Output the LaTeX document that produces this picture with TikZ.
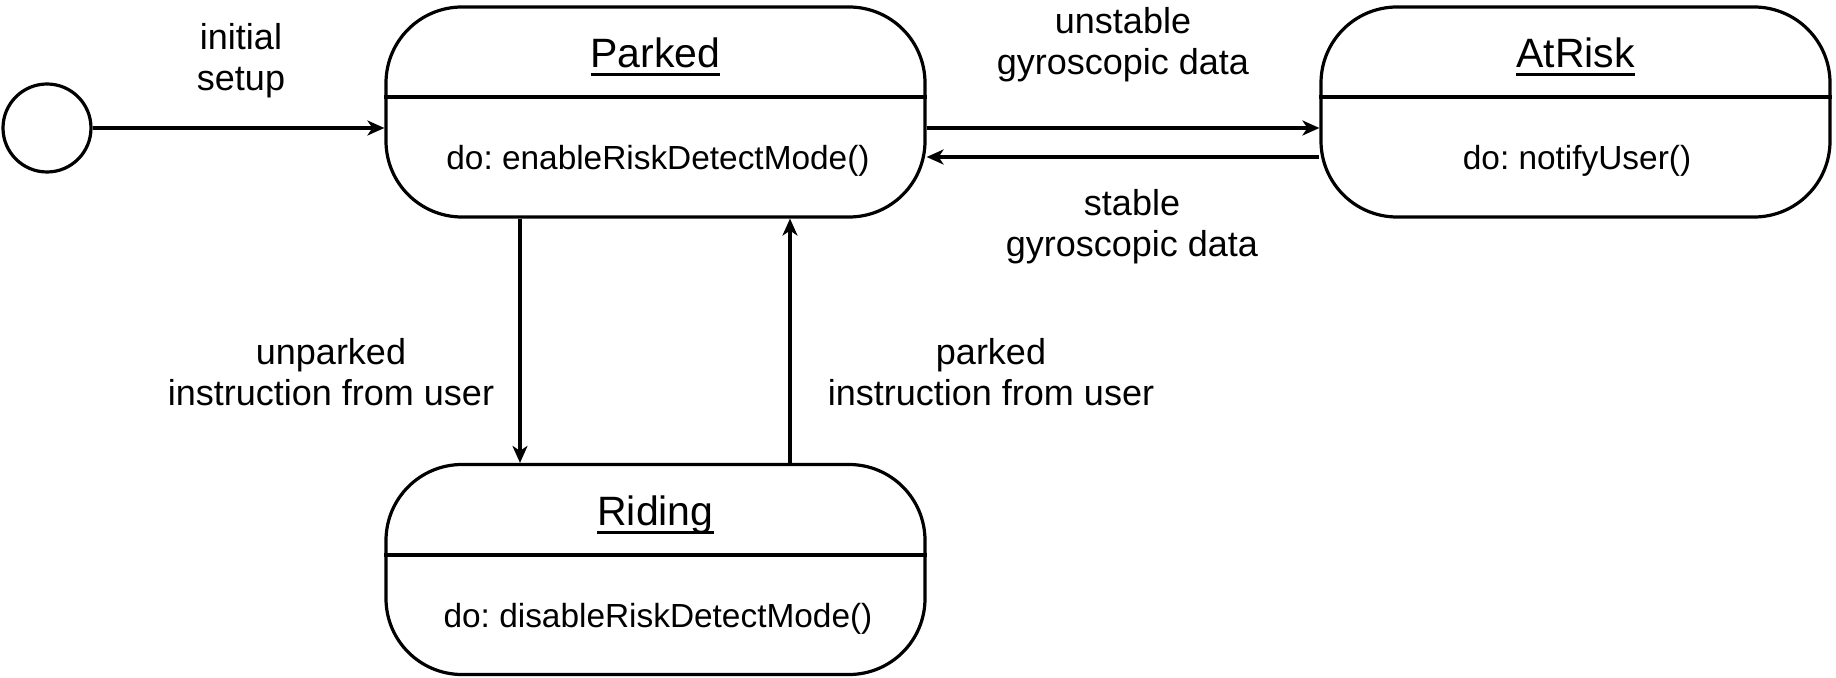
\documentclass[tikz,border=0pt]{standalone}
\usepackage{fontspec}
\setmainfont{Liberation Sans}
\usetikzlibrary{arrows.meta}
\frenchspacing
\newcommand\myul[1]{\setbox0\hbox{#1}\rlap{\rule[-4.2pt]{\wd0}{1.4pt}}\box0}
\begin{document}
\begin{tikzpicture}[x=0.5pt,y=-0.5pt,line width=1.6pt,
  statebox/.style={draw,rounded corners=38pt,minimum width=#1,minimum height=105pt,inner sep=0pt},
  titletext/.style={font=\fontsize{20.5}{24}\selectfont,inner sep=0pt},
  bodytext/.style={font=\fontsize{16.7}{19.5}\selectfont,inner sep=0pt},
  lbl/.style={font=\fontsize{18}{20.5}\selectfont,align=center,inner sep=0pt},
  arr/.style={-{Stealth[length=8.5pt,width=7.5pt,inset=2.5pt]}}]
\useasboundingbox (0,0) rectangle (1836,678);
% states
\node[circle,draw,minimum size=44pt,inner sep=0pt] (init) at (47,128) {};
\node[statebox=269.5pt] (parked) at (655.5,112) {};
\node[statebox=254.5pt] (atrisk) at (1575.5,112) {};
\node[statebox=269.5pt] (riding) at (655.5,569.5) {};
\coordinate (d1) at (0,97);
\coordinate (d2) at (0,555);
\draw (parked.west |- d1) -- (parked.east |- d1);
\draw (atrisk.west |- d1) -- (atrisk.east |- d1);
\draw (riding.west |- d2) -- (riding.east |- d2);
\node[titletext] (parkedT) at (655.5,57) {\myul{Parked}};
\node[titletext] (atriskT) at (1575.5,57) {\myul{AtRisk}};
\node[titletext] (ridingT) at (655.5,515) {\myul{Riding}};
\node[bodytext] (parkedB) at (658,161) {do: enableRiskDetectMode()};
\node[bodytext] (atriskB) at (1577,161) {do: notifyUser()};
\node[bodytext] (ridingB) at (658,619) {do: disableRiskDetectMode()};
% connectors
\coordinate (ya) at (0,128);
\coordinate (yb) at (0,157);
\coordinate (xa) at (520,0);
\coordinate (xb) at (790,0);
\draw[arr] (init.east) -- (init.east -| parked.west);
\draw[arr] (parked.east |- ya) -- (atrisk.west |- ya);
\draw[arr] (atrisk.west |- yb) -- (parked.east |- yb);
\draw[arr] (parked.south -| xa) -- (riding.north -| xa);
\draw[arr] (riding.north -| xb) -- (parked.south -| xb);
% labels
\node[lbl] (l1) at (241,61) {initial\\setup};
\node[lbl] (l2) at (1123,45) {unstable\\gyroscopic data};
\node[lbl] (l3) at (1132,227) {stable\\gyroscopic data};
\node[lbl] (l4) at (331,372) {unparked\\instruction from user};
\node[lbl] (l5) at (991,372) {parked\\instruction from user};
\end{tikzpicture}
\end{document}
